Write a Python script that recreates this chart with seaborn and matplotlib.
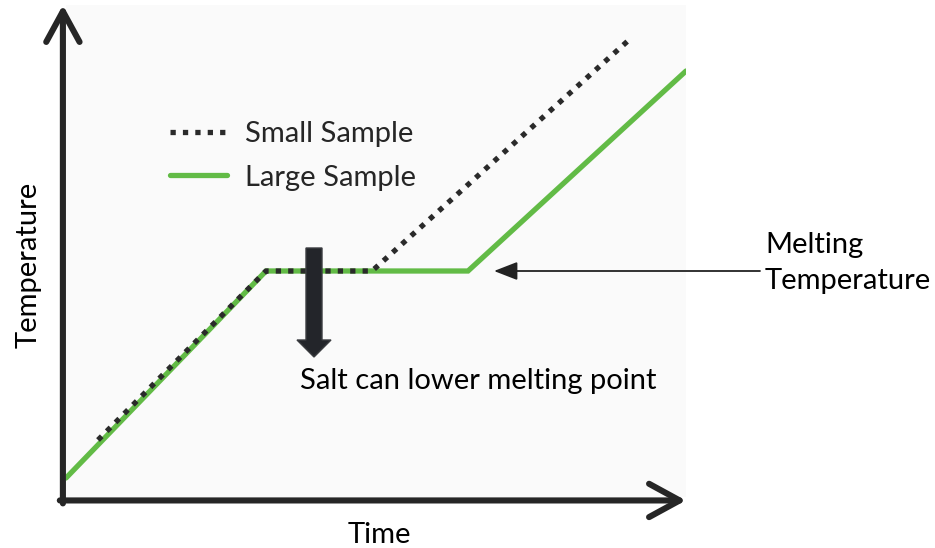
import matplotlib
matplotlib.use("Agg")
import matplotlib.pyplot as plt
from matplotlib.patches import FancyArrow
import seaborn as sns
import pandas as pd

# Heating curves: time vs temperature for two sample sizes
large_time = [0, 200, 402, 620]
large_temp = [19, 226, 226, 426]
small_time = [32, 200, 306, 564]
small_temp = [57, 226, 226, 458]
series_names = ["Small Sample", "Large Sample"]
melt_temp = 226

sns.set_theme(style="white")
plt.rcParams["font.family"] = ["Lato", "DejaVu Sans"]

FS = 21

fig = plt.figure(figsize=(9.35, 5.48), dpi=100)
ax = fig.add_axes([66 / 935, 51 / 548, 620 / 935, 492 / 548])
ax.set_facecolor("#fafafa")

df = pd.concat([
    pd.DataFrame({"Time": small_time, "Temperature": small_temp, "Sample": series_names[0]}),
    pd.DataFrame({"Time": large_time, "Temperature": large_temp, "Sample": series_names[1]}),
])

green = "#62bb46"
dark = "#2a2a2a"

sns.lineplot(data=df[df.Sample == series_names[1]], x="Time", y="Temperature",
             ax=ax, color=green, lw=3.8, sort=False, label=series_names[1],
             solid_joinstyle="miter", zorder=3)
sns.lineplot(data=df[df.Sample == series_names[0]], x="Time", y="Temperature",
             ax=ax, color=dark, lw=3.8, sort=False, label=series_names[0],
             linestyle=(0, (1, 1.35)), dash_capstyle="butt", zorder=4)

ax.set_xlim(0, 620)
ax.set_ylim(0, 492)
ax.set_xticks([])
ax.set_yticks([])
for s in ax.spines.values():
    s.set_visible(False)
ax.set_xlabel("Time", fontsize=FS, color="black")
ax.set_ylabel("Temperature", fontsize=FS, color="black")
ax.xaxis.set_label_coords(0.506, -0.051)
ax.yaxis.set_label_coords(-0.039, 0.4715)

# Axis arrows with open chevron heads
axis_style = dict(arrowstyle="->,head_length=1.1,head_width=0.6", lw=4.4,
                  color="#262626", mutation_scale=20, capstyle="round",
                  joinstyle="round", shrinkA=0, shrinkB=0)
ax.annotate("", xy=(-0.005, 1.0), xytext=(-0.005, -0.013), xycoords="axes fraction",
            arrowprops=axis_style, annotation_clip=False)
ax.annotate("", xy=(1.0, -0.007), xytext=(-0.01, -0.007), xycoords="axes fraction",
            arrowprops=axis_style, annotation_clip=False)

# Legend
handles, labels = ax.get_legend_handles_labels()
order = [labels.index(n) for n in series_names]
leg = ax.legend([handles[i] for i in order], [labels[i] for i in order],
                loc="upper left", bbox_to_anchor=(0.168, 0.764), frameon=False,
                borderpad=0, borderaxespad=0,
                fontsize=FS, handlelength=1.95, handletextpad=0.6, labelspacing=0.6)

# Block arrow: salt lowers melting point
ax.add_patch(FancyArrow(248, 249, 0, -109, width=16, head_width=34, head_length=17,
                        length_includes_head=True, facecolor="#23252a",
                        edgecolor="#3a3c40", lw=1, zorder=5))
ax.text(234, 116, "Salt can lower melting point", fontsize=FS, ha="left",
        va="center", color="black")

# Melting temperature pointer
ax.annotate("", xy=(428, melt_temp), xytext=(694, melt_temp), xycoords="data",
            arrowprops=dict(arrowstyle="-|>,head_length=0.9,head_width=0.35",
                            lw=1.3, color="#222222", mutation_scale=16,
                            shrinkA=0, shrinkB=0),
            annotation_clip=False)
ax.text(699, 234, "Melting\nTemperature", fontsize=FS, ha="left", va="center",
        linespacing=1.45, color="black", clip_on=False)

fig.savefig("out.png", dpi=100, facecolor="white")
